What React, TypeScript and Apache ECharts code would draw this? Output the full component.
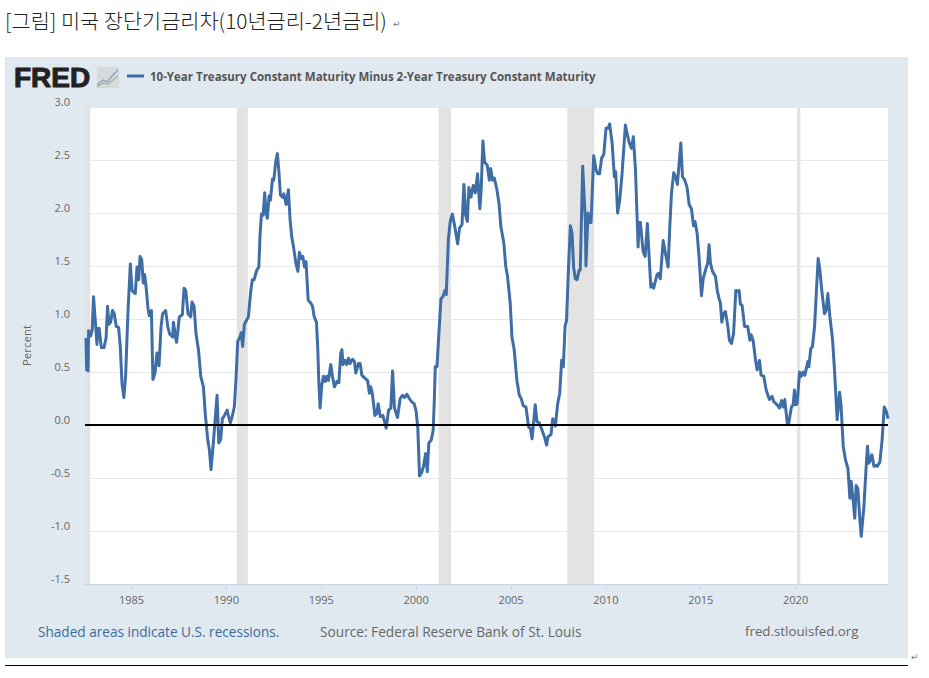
import React, { useEffect, useRef } from "react";
import * as echarts from "echarts";

const titleText = "[그림] 미국 장단기금리차(10년금리-2년금리)";
const seriesName = "10-Year Treasury Constant Maturity Minus 2-Year Treasury Constant Maturity";
const xTicks = [1985, 1990, 1995, 2000, 2005, 2010, 2015, 2020];
const recessionStarts = [1982.55, 1990.55, 2001.18, 2007.97, 2020.08];
const recessionEnds = [1982.83, 1991.13, 2001.84, 2009.39, 2020.25];

const yearsA = [
  1982.6, 1982.64, 1982.71, 1982.74, 1982.85, 1982.93, 1983.0, 1983.09, 1983.18, 1983.23, 1983.3, 1983.41, 1983.55, 1983.66, 1983.74, 1983.81, 1983.9,
  1984.0, 1984.09, 1984.2, 1984.32, 1984.41, 1984.5, 1984.6, 1984.69, 1984.81, 1984.94, 1985.03, 1985.13, 1985.2, 1985.29, 1985.38, 1985.45, 1985.54, 1985.62, 1985.69, 1985.77, 1985.87, 1985.94,
  1986.05, 1986.13, 1986.24, 1986.34, 1986.45, 1986.56, 1986.64, 1986.8, 1986.91, 1987.01, 1987.17, 1987.21, 1987.33, 1987.38, 1987.52, 1987.68, 1987.77, 1987.86, 1987.98,
  1988.12, 1988.19, 1988.3, 1988.4, 1988.53, 1988.65, 1988.79, 1988.9, 1989.02, 1989.11, 1989.19, 1989.3, 1989.51, 1989.6, 1989.7, 1989.79, 1989.9, 1990.04, 1990.12, 1990.21, 1990.32, 1990.42, 1990.51, 1990.6, 1990.72, 1990.78, 1990.86, 1990.95,
  1991.07, 1991.16, 1991.29, 1991.37, 1991.46, 1991.6, 1991.71, 1991.78, 1991.85, 1991.94, 1992.02, 1992.09, 1992.16, 1992.25, 1992.32, 1992.43, 1992.5, 1992.6, 1992.69, 1992.76, 1992.85, 1992.96,
  1993.03, 1993.15, 1993.27, 1993.36, 1993.45, 1993.54, 1993.66, 1993.77, 1993.85, 1993.94, 1994.03, 1994.12, 1994.2, 1994.31, 1994.45, 1994.54, 1994.63, 1994.75, 1994.82, 1994.87, 1994.94,
  1995.03, 1995.12, 1995.21, 1995.29, 1995.38, 1995.5, 1995.59, 1995.7, 1995.82, 1995.93,
];
const spreadA = [
  0.82, 0.52, 0.51, 0.89, 0.84, 0.9, 1.21, 0.99, 0.76, 0.91, 0.91, 0.73, 0.73, 0.82, 1.12, 0.95, 0.97,
  1.08, 1.05, 0.93, 0.92, 0.74, 0.39, 0.26, 0.46, 1.05, 1.52, 1.27, 1.25, 1.24, 1.49, 1.37, 1.59, 1.56, 1.34, 1.42, 1.3, 1.1, 1.03,
  1.08, 0.43, 0.49, 0.68, 0.56, 0.93, 1.05, 1.08, 0.93, 0.86, 0.83, 0.97, 0.82, 0.78, 1.02, 1.04, 1.29, 1.27, 1.05,
  1.02, 1.16, 1.12, 0.86, 0.71, 0.46, 0.36, 0.08, -0.14, -0.24, -0.42, -0.2, 0.28, -0.17, -0.14, 0.06, 0.09, 0.14, 0.08, 0.02, 0.09, 0.17, 0.44, 0.79, 0.83, 0.87, 0.74, 0.95,
  0.99, 1.02, 1.27, 1.37, 1.37, 1.46, 1.49, 1.81, 1.99, 1.98, 2.19, 2.0, 1.95, 2.16, 2.12, 2.32, 2.31, 2.48, 2.56, 2.41, 2.17, 2.15,
  2.18, 2.08, 2.22, 1.93, 1.77, 1.68, 1.53, 1.45, 1.63, 1.57, 1.59, 1.49, 1.54, 1.18, 1.15, 1.12, 1.02, 0.97, 0.71, 0.42, 0.16,
  0.38, 0.46, 0.41, 0.46, 0.42, 0.57, 0.46, 0.36, 0.41, 0.4,
];

const yearsB = [
  1996.03, 1996.09, 1996.15, 1996.26, 1996.35, 1996.44, 1996.52, 1996.65, 1996.75, 1996.82, 1996.96, 1997.05, 1997.14, 1997.31, 1997.44, 1997.54, 1997.61, 1997.69, 1997.83, 1997.93,
  1998.0, 1998.11, 1998.25, 1998.42, 1998.55, 1998.67, 1998.76, 1998.86, 1999.02, 1999.16, 1999.28, 1999.39, 1999.51, 1999.64, 1999.76, 1999.9,
  2000.0, 2000.09, 2000.18, 2000.29, 2000.39, 2000.5, 2000.59, 2000.67, 2000.8, 2000.9, 2000.96, 2001.01, 2001.1, 2001.2, 2001.31, 2001.41, 2001.52, 2001.59, 2001.7, 2001.8, 2001.91,
  2002.01, 2002.19, 2002.29, 2002.42, 2002.52, 2002.61, 2002.7, 2002.78, 2002.89, 2003.01, 2003.12, 2003.24, 2003.36, 2003.43, 2003.52, 2003.61, 2003.75, 2003.86, 2003.93,
  2004.03, 2004.12, 2004.26, 2004.37, 2004.47, 2004.63, 2004.72, 2004.82, 2004.96, 2005.05, 2005.17, 2005.31, 2005.44, 2005.54, 2005.65, 2005.79, 2005.93,
  2006.02, 2006.11, 2006.28, 2006.37, 2006.49, 2006.6, 2006.76, 2006.88, 2006.95, 2007.11, 2007.2, 2007.34, 2007.46, 2007.57, 2007.67, 2007.76, 2007.85, 2007.93,
  2008.02, 2008.13, 2008.22, 2008.3, 2008.39, 2008.48, 2008.59, 2008.65, 2008.78, 2008.92, 2008.95, 2009.06, 2009.13, 2009.22, 2009.36, 2009.48, 2009.57, 2009.67, 2009.78, 2009.89,
  2010.01, 2010.12, 2010.2, 2010.33, 2010.45, 2010.52, 2010.62, 2010.73,
];
const spreadB = [
  0.68, 0.71, 0.57, 0.61, 0.57, 0.63, 0.58, 0.62, 0.6, 0.49, 0.58, 0.58, 0.47, 0.44, 0.42, 0.3, 0.36, 0.3, 0.09, 0.11,
  0.2, 0.08, 0.09, -0.03, 0.14, 0.16, 0.51, 0.16, 0.07, 0.25, 0.28, 0.26, 0.29, 0.25, 0.22, 0.2,
  0.13, -0.03, -0.48, -0.45, -0.39, -0.27, -0.44, -0.17, -0.14, -0.05, 0.24, 0.55, 0.55, 0.86, 1.19, 1.21, 1.27, 1.23, 1.75, 1.92, 1.99,
  1.9, 1.71, 1.86, 1.89, 2.27, 1.98, 1.92, 2.24, 2.15, 2.26, 2.19, 2.37, 2.04, 2.22, 2.68, 2.48, 2.45, 2.31, 2.42,
  2.31, 2.33, 2.22, 2.09, 1.87, 1.71, 1.5, 1.4, 1.15, 0.83, 0.71, 0.42, 0.28, 0.25, 0.18, 0.17, -0.02,
  -0.03, -0.13, 0.19, 0.03, 0.02, -0.03, -0.11, -0.19, -0.11, -0.09, 0.06, -0.01, 0.2, 0.3, 0.61, 0.55, 0.93, 0.99,
  1.43, 1.88, 1.81, 1.49, 1.38, 1.37, 1.46, 1.46, 2.44, 1.92, 1.5, 2.0, 1.91, 1.91, 2.54, 2.41, 2.37, 2.37, 2.52, 2.55,
  2.8, 2.8, 2.84, 2.66, 2.34, 2.39, 2.0, 2.12,
];

const yearsC = [
  2010.85, 2011.03, 2011.12, 2011.22, 2011.35, 2011.45, 2011.56, 2011.7, 2011.75, 2011.82, 2011.96, 2012.07, 2012.19, 2012.28, 2012.37, 2012.45, 2012.52, 2012.7, 2012.77, 2012.87,
  2013.02, 2013.14, 2013.28, 2013.37, 2013.46, 2013.58, 2013.69, 2013.77, 2013.95, 2014.04, 2014.16, 2014.28, 2014.39, 2014.51, 2014.62, 2014.7, 2014.81, 2014.91,
  2015.04, 2015.13, 2015.25, 2015.37, 2015.44, 2015.51, 2015.62, 2015.78, 2015.88, 2015.97, 2016.04, 2016.11, 2016.2, 2016.3, 2016.43, 2016.51, 2016.62, 2016.73, 2016.85, 2016.95,
  2017.02, 2017.09, 2017.18, 2017.31, 2017.48, 2017.59, 2017.66, 2017.76, 2017.89, 2017.97, 2018.1, 2018.18, 2018.32, 2018.45, 2018.62, 2018.76, 2018.85,
  2019.03, 2019.15, 2019.26, 2019.34, 2019.43, 2019.56, 2019.64, 2019.78, 2019.87, 2019.94, 2020.01, 2020.08, 2020.21, 2020.29, 2020.4, 2020.49, 2020.65, 2020.7, 2020.8, 2020.89,
  2021.0, 2021.09, 2021.19, 2021.28, 2021.38, 2021.52, 2021.61, 2021.7, 2021.81, 2021.95, 2022.05, 2022.19, 2022.32, 2022.4, 2022.51, 2022.63, 2022.76, 2022.86, 2022.93,
  2023.02, 2023.12, 2023.19, 2023.28, 2023.39, 2023.46, 2023.6, 2023.72, 2023.79, 2023.86, 2023.95, 2024.02, 2024.13, 2024.23, 2024.3, 2024.44, 2024.56, 2024.67, 2024.78, 2024.87,
];
const spreadC = [
  2.36, 2.83, 2.75, 2.67, 2.61, 2.72, 2.41, 1.68, 1.91, 1.91, 1.64, 1.59, 1.9, 1.59, 1.3, 1.33, 1.29, 1.42, 1.43, 1.38,
  1.74, 1.62, 1.49, 1.87, 2.19, 2.38, 2.33, 2.27, 2.66, 2.34, 2.31, 2.24, 2.08, 2.04, 1.88, 1.92, 1.81, 1.59,
  1.22, 1.38, 1.46, 1.53, 1.7, 1.53, 1.45, 1.4, 1.26, 1.19, 1.15, 0.97, 1.05, 1.07, 0.93, 0.8, 0.77, 0.86, 1.27, 1.26,
  1.27, 1.14, 1.13, 0.93, 0.93, 0.8, 0.85, 0.8, 0.61, 0.52, 0.61, 0.47, 0.46, 0.33, 0.24, 0.27, 0.22,
  0.19, 0.16, 0.23, 0.17, 0.24, 0.02, 0.02, 0.17, 0.19, 0.33, 0.19, 0.2, 0.5, 0.46, 0.5, 0.47, 0.6, 0.55, 0.72, 0.74,
  0.93, 1.24, 1.57, 1.46, 1.27, 1.05, 1.08, 1.24, 1.02, 0.8, 0.52, 0.05, 0.31, 0.17, -0.2, -0.33, -0.41, -0.69, -0.53,
  -0.69, -0.88, -0.57, -0.6, -0.9, -1.05, -0.77, -0.39, -0.2, -0.36, -0.33, -0.28, -0.39, -0.38, -0.39, -0.35, -0.14, 0.17, 0.13, 0.06,
];

const xMin = 1982.55;
const xMax = 2024.87;
const zeroLevel = [0, 0];
const panelColor = "#e1e9f0";
const greyText = "#666666";
const bodyFont = "'Open Sans', 'Noto Sans', sans-serif";

export default function App() {
  const ref = useRef<HTMLDivElement>(null);
  useEffect(() => {
    document.body.style.margin = "0";
    const chart = echarts.init(ref.current!, undefined, { renderer: "svg" });
    const allYears = [...yearsA, ...yearsB, ...yearsC];
    const allSpread = [...spreadA, ...spreadB, ...spreadC];
    const retMark = (x: number, y: number) => ({
      type: "text", x, y, z: 5, silent: true,
      style: { text: "↵", fill: "#777777", fontSize: 9, fontFamily: "'DejaVu Sans'" },
    });
    chart.setOption({
      animation: false,
      backgroundColor: "#ffffff",
      textStyle: { fontFamily: bodyFont },
      grid: { left: 85, top: 107, width: 803, height: 477, show: true, backgroundColor: "#ffffff", borderWidth: 0 },
      legend: {
        data: [seriesName], left: 127, top: 70, padding: 0, itemWidth: 17, itemHeight: 3, itemGap: 5,
        icon: "rect", selectedMode: false,
        textStyle: { color: "#555555", fontSize: 11.5, fontWeight: "bold", fontFamily: bodyFont, padding: [0, 0, 0, 1] },
      },
      xAxis: {
        type: "value", min: xMin, max: xMax, splitLine: { show: false },
        axisLine: { onZero: false, lineStyle: { color: "#c8d4e8", width: 1 } },
        axisTick: { customValues: xTicks, length: 6, lineStyle: { color: "#c8d4e8" } },
        axisLabel: { customValues: xTicks, margin: 10, color: greyText, fontSize: 11, formatter: (v: number) => String(v) },
      },
      yAxis: {
        type: "value", min: -1.5, max: 3, interval: 0.5,
        name: "Percent", nameLocation: "middle", nameGap: 53,
        nameTextStyle: { color: greyText, fontSize: 11.5 },
        axisLine: { show: false }, axisTick: { show: false },
        splitLine: { lineStyle: { color: "#e8e8e8", width: 1 } },
        axisLabel: { color: greyText, fontSize: 11, margin: 15, verticalAlign: "bottom", formatter: (v: number) => v.toFixed(1) },
      },
      series: [
        {
          name: seriesName, type: "line", showSymbol: false, symbol: "none",
          data: allYears.map((y, i) => [y, allSpread[i]]),
          lineStyle: { color: "#3f6ea6", width: 3, join: "round" }, itemStyle: { color: "#3f6ea6" },
          z: 3,
          markArea: {
            silent: true, itemStyle: { color: "#e3e3e3" },
            data: recessionStarts.map((s, i) => [{ xAxis: s }, { xAxis: recessionEnds[i] }]),
          },
        },
        {
          name: "zero", type: "line", showSymbol: false, symbol: "none",
          data: [[xMin, zeroLevel[0]], [xMax, zeroLevel[1]]],
          lineStyle: { color: "#000000", width: 2 }, z: 4,
        },
      ],
      graphic: [
        { type: "rect", z: -10, silent: true, shape: { x: 5, y: 57, width: 903, height: 601 }, style: { fill: panelColor } },
        { type: "text", x: 5, y: 10, silent: true, style: { text: titleText, fill: "#222222", fontSize: 20.8, fontWeight: 300, fontFamily: "'Noto Sans CJK KR'" } },
        retMark(393, 19),
        { type: "text", x: 14, y: 63, silent: true, style: { text: "FRED", fill: "#222222", fontSize: 28, fontWeight: 900, fontFamily: "'Liberation Sans'", stroke: "#222222", lineWidth: 1 } },
        { type: "rect", silent: true, shape: { x: 97, y: 67, width: 22, height: 21 }, style: { fill: "#d5dadb" } },
        { type: "polyline", silent: true, shape: { points: [[97, 85], [103, 80], [107, 82], [112, 76], [118, 70]] }, style: { fill: "none", stroke: "#7f9fc2", lineWidth: 1.2 } },
        { type: "polyline", silent: true, shape: { points: [[97, 87], [103, 83], [108, 84], [113, 80], [118, 76]] }, style: { fill: "none", stroke: "#9fb58a", lineWidth: 1.2 } },
        { type: "text", x: 38, y: 624, silent: true, style: { text: "Shaded areas indicate U.S. recessions.", fill: "#3d6a9e", fontSize: 13.6, fontFamily: bodyFont } },
        { type: "text", x: 320, y: 624, silent: true, style: { text: "Source: Federal Reserve Bank of St. Louis", fill: greyText, fontSize: 13.7, fontFamily: bodyFont } },
        { type: "text", x: 745, y: 624, silent: true, style: { text: "fred.stlouisfed.org", fill: greyText, fontSize: 13.3, fontFamily: bodyFont } },
        { type: "line", silent: true, shape: { x1: 5, y1: 665.5, x2: 908, y2: 665.5 }, style: { stroke: "#000000", lineWidth: 1 } },
        retMark(911, 652),
      ],
    });
    return () => chart.dispose();
  }, []);
  return <div ref={ref} style={{ position: "absolute", left: 0, top: 0, width: 929, height: 678 }} />;
}
